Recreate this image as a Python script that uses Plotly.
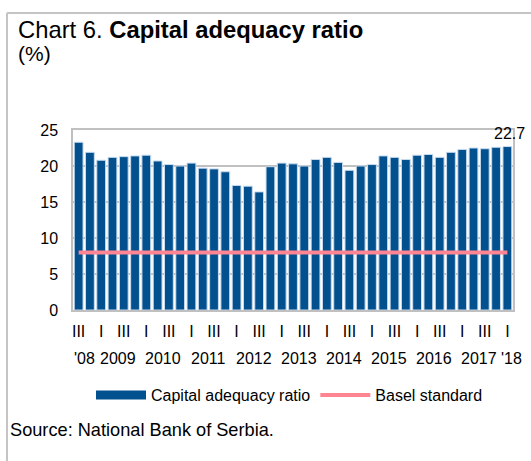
import plotly.graph_objects as go

# ---- data ----
quarters = ["III", "IV"] + ["I", "II", "III", "IV"] * 9 + ["I"]
quarter_years = ["'08"] * 2 + [str(y) for y in range(2009, 2018) for _ in range(4)] + ["'18"]
car_values = [23.3, 21.9, 20.8, 21.2, 21.3, 21.4, 21.5, 20.7, 20.2, 20.0,
              20.4, 19.7, 19.6, 19.2, 17.3, 17.2, 16.4, 19.9, 20.4, 20.3,
              20.0, 20.9, 21.2, 20.5, 19.4, 20.0, 20.2, 21.4, 21.2, 20.9,
              21.5, 21.6, 21.2, 21.9, 22.3, 22.5, 22.4, 22.6, 22.7]
basel_standard = 8
y_ticks = [0, 5, 10, 15, 20, 25]

BLUE = "#03508f"
PINK = "#ff8593"
FONT = "Liberation Sans, Arial, sans-serif"
FS = 16

n = len(car_values)
xs = list(range(n))

# plot-area pixel geometry (for converting text positions to paper coords)
L, R, T, B = 73, 513, 130, 310
W_, H_ = R - L, B - T
def px(x): return (x - L) / W_
def py(y): return (B - y) / H_

fig = go.Figure()
fig.add_trace(go.Bar(
    x=xs, y=car_values, marker=dict(color=BLUE, line=dict(color="#c9dbee", width=1)),
    width=0.78, showlegend=False, name="Capital adequacy ratio", hoverinfo="y"))
fig.add_trace(go.Scatter(
    x=xs, y=[basel_standard] * n, mode="lines",
    line=dict(color=PINK, width=4), showlegend=False, name="Basel standard"))
# legend entries
fig.add_trace(go.Scatter(x=[None], y=[None], mode="lines", name="Capital adequacy ratio",
                         line=dict(color=BLUE, width=9)))
fig.add_trace(go.Scatter(x=[None], y=[None], mode="lines", name="Basel standard",
                         line=dict(color=PINK, width=4)))

tickvals = [i for i, q in enumerate(quarters) if q in ("I", "III")]
ticktext = [quarters[i] for i in tickvals]

annotations = []
# year labels
year_order = []
for y in quarter_years:
    if y not in year_order:
        year_order.append(y)
for k, y in enumerate(year_order):
    idx = [i for i, yy in enumerate(quarter_years) if yy == y]
    xc = sum(idx) / len(idx)
    shift = 4 if k == len(year_order) - 1 else 0
    annotations.append(dict(x=xc, y=py(358), xref="x", yref="paper", text=y,
                            showarrow=False, xshift=shift, yanchor="middle",
                            font=dict(size=FS, color="#000", family=FONT)))
# last value label
annotations.append(dict(x=xs[-1], y=car_values[-1], xref="x", yref="y",
                        text=f"{car_values[-1]}", showarrow=False, yanchor="bottom",
                        yshift=3, xshift=2, font=dict(size=FS, color="#000", family=FONT)))
# title, unit, source
annotations.append(dict(x=px(16), y=py(29), xref="paper", yref="paper", xanchor="left",
                        yanchor="middle", showarrow=False,
                        text="Chart 6. <b>Capital adequacy ratio</b>",
                        font=dict(size=23.8, color="#000", family=FONT)))
annotations.append(dict(x=px(16), y=py(53), xref="paper", yref="paper", xanchor="left",
                        yanchor="middle", showarrow=False, text="(%)",
                        font=dict(size=21, color="#000", family=FONT)))
annotations.append(dict(x=px(8), y=py(430), xref="paper", yref="paper", xanchor="left",
                        yanchor="middle", showarrow=False,
                        text="Source: National Bank of Serbia.",
                        font=dict(size=18.2, color="#000", family=FONT)))

shapes = [
    dict(type="line", xref="paper", yref="paper", x0=px(7), x1=px(540), y0=py(13), y1=py(13),
         line=dict(color="#c4c4c4", width=2)),
    dict(type="line", xref="paper", yref="paper", x0=px(7), x1=px(7), y0=py(13), y1=py(470),
         line=dict(color="#c4c4c4", width=2)),
]

fig.update_layout(
    width=531, height=461,
    margin=dict(l=L, r=531 - R, t=T, b=461 - B),
    paper_bgcolor="white", plot_bgcolor="white",
    font=dict(family=FONT, size=FS, color="#000"),
    bargap=0.2,
    xaxis=dict(range=[-0.5, n - 0.5], tickvals=tickvals, ticktext=ticktext,
               showgrid=False, zeroline=False, showline=True, mirror=True,
               linecolor="#c0c0c0", linewidth=1.5, ticks="", ticklabelstandoff=6,
               tickfont=dict(size=FS, family=FONT, color="#000")),
    yaxis=dict(range=[0, 25], tickvals=y_ticks, showgrid=True, gridcolor="#c0c0c0",
               gridwidth=1.5, zeroline=False, showline=True, mirror=True,
               linecolor="#c0c0c0", linewidth=1.5, ticks="", ticklabelstandoff=10,
               tickfont=dict(size=FS, family=FONT, color="#000")),
    legend=dict(orientation="h", x=px(91), y=py(378), xanchor="left", yanchor="top",
                font=dict(size=FS, family=FONT, color="#000"), itemwidth=50,
                bgcolor="rgba(0,0,0,0)"),
    annotations=annotations, shapes=shapes,
)

fig.write_html("out.html")
